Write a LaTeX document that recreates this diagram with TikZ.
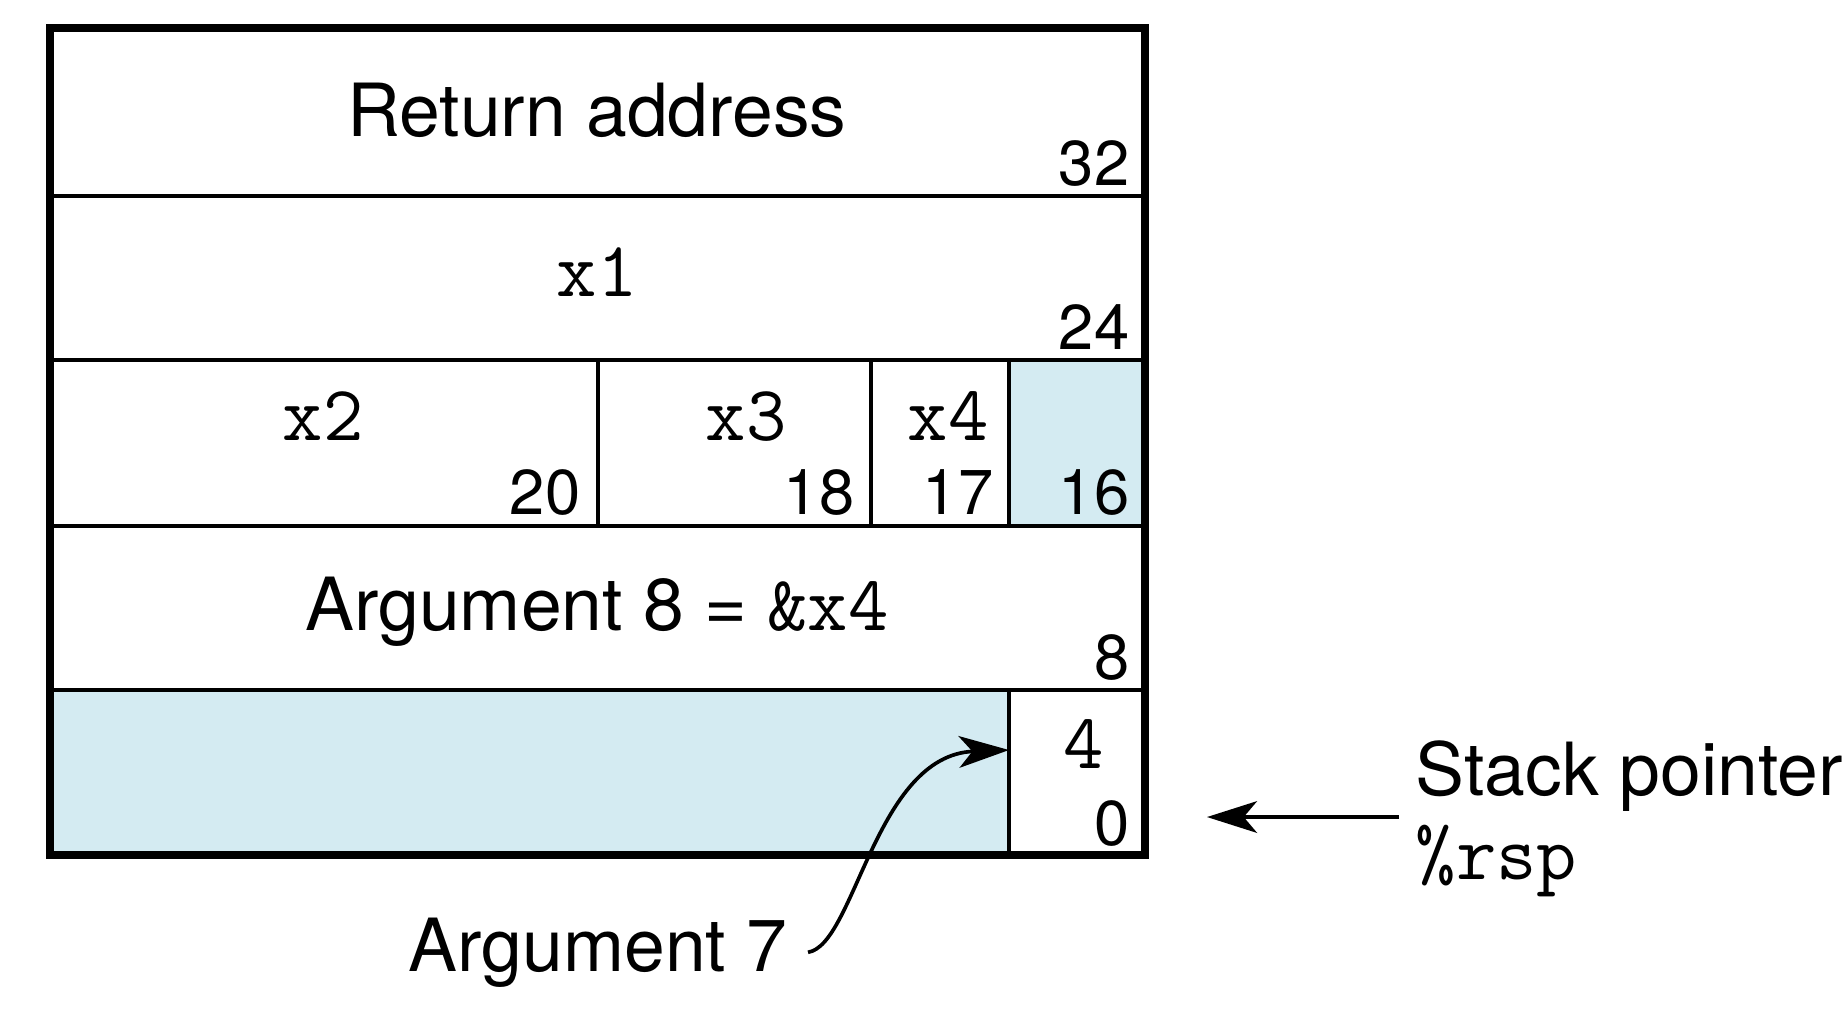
\documentclass[tikz,border=0pt]{standalone}
\usepackage{fontspec}
\setmainfont{TeX Gyre Heros}
\usetikzlibrary{arrows.meta}
\definecolor{cellblue}{RGB}{212,235,242}
\tikzset{
  label text/.style={font=\fontsize{22}{26}\selectfont, inner sep=0pt},
  code text/.style={font=\ttfamily\fontsize{23.5}{27}\selectfont, inner sep=0pt},
  offset text/.style={font=\fontsize{19}{22}\selectfont, inner sep=0pt, anchor=base east},
  frame/.style={line width=2.6pt},
  rowline/.style={line width=1.3pt},
  colline/.style={line width=1pt},
  pointer/.style={line width=1.1pt, -{Stealth[length=15pt, width=9.5pt, inset=4pt]}},
}

\begin{document}
\begin{tikzpicture}[x=0.3pt, y=-0.3pt]
\useasboundingbox (0,0) rectangle (1848,1032);
% shaded (unused) cells
\fill[cellblue] (1009,360) rectangle (1145,526);
\fill[cellblue] (50,690) rectangle (1009,855);
\foreach \y in {196,360,526,690}
  \draw[rowline] (50,\y) -- (1145,\y);
\foreach \x in {598,871,1009}
  \draw[colline] (\x,360) -- (\x,526);
\draw[colline] (1009,690) -- (1009,855);
\draw[frame] (50,28) rectangle (1145,855);

\node[label text, anchor=base] (ret) at (597,136) {Return address};
\node[offset text] (o32) at (1130,185) {32};
\node[code text, anchor=base] (x1) at (597,296) {x1};
\node[offset text] (o24) at (1130,349) {24};
\node[code text, anchor=base] (x2) at (323,440) {x2};
\node[offset text] (o20) at (581,514) {20};
\node[code text, anchor=base] (x3) at (746,440) {x3};
\node[offset text] (o18) at (855,514) {18};
\node[code text, anchor=base] (x4) at (948,440) {x4};
\node[offset text] (o17) at (994,514) {17};
\node[offset text] (o16) at (1130,514) {16};
\node[label text, anchor=base] (arg8) at (597,630) {Argument 8 = {\ttfamily\fontsize{23.5}{27}\selectfont\&x4}};
\node[offset text] (o8) at (1130,679) {8};
\node[code text, anchor=base] (o4) at (1084,768) {4};
\node[offset text] (o0) at (1130,845) {0};

\node[label text, anchor=base west] (sp) at (1415,795) {Stack pointer};
\node[code text, anchor=base west] (rsp) at (1415,879) {\%rsp};
\node[label text, anchor=base east] (arg7) at (788,971) {Argument 7};

\coordinate (sp tail) at (1399,817);
\coordinate (sp tip) at (1207,817);
\coordinate (arg7 tip) at (1009,750);
\draw[pointer] (sp tail) -- (sp tip);
\draw[pointer] ([xshift=6pt]arg7.east) .. controls (855,945) and (875,755) .. (arg7 tip);
\end{tikzpicture}
\end{document}
